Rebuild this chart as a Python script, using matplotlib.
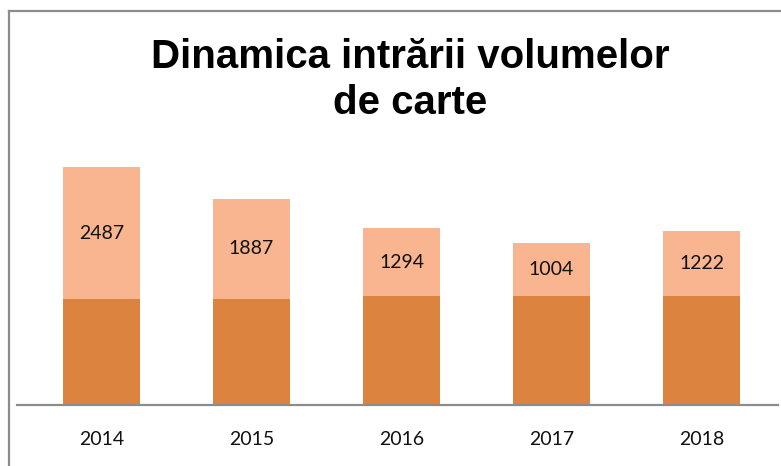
import matplotlib
matplotlib.use('Agg')
import matplotlib.pyplot as plt
from matplotlib.lines import Line2D

years = ['2014', '2015', '2016', '2017', '2018']
base_vals = [1990, 1990, 2040, 2040, 2040]
intrari = [2487, 1887, 1294, 1004, 1222]

dark = '#DC843F'
light = '#F9B590'
grey = '#8C8C8C'

fig = plt.figure(figsize=(7.81, 4.66), dpi=100)
ax = fig.add_axes([17 / 781, 61 / 466, 761 / 781, 250 / 466])

x = list(range(len(years)))
ax.bar(x, base_vals, width=0.513, color=dark, zorder=2)
ax.bar(x, intrari, width=0.513, bottom=base_vals, color=light, zorder=2)

for xi, b, v in zip(x, base_vals, intrari):
    ax.text(xi, b + v / 2, str(v), ha='center', va='center',
            fontsize=14, family=['Lato', 'DejaVu Sans'], color='#111111')

ax.set_xlim(-0.563, 4.51)
ax.set_ylim(0, 4700)
ax.set_xticks(x)
ax.set_xticklabels(years, family=['Lato', 'DejaVu Sans'], fontsize=14,
                   color='#111111')
ax.tick_params(axis='x', length=0, pad=18.5)
ax.set_yticks([])
for s in ['top', 'right', 'left']:
    ax.spines[s].set_visible(False)
ax.spines['bottom'].set_color(grey)
ax.spines['bottom'].set_linewidth(1.6)

fig.text(0.525, 1 - 80 / 466, 'Dinamica intrării volumelor\nde carte',
         ha='center', va='center', fontsize=29, fontweight='bold',
         family=['Liberation Sans', 'DejaVu Sans'], linespacing=1.3)

# chart frame (left and top edges visible)
fig.add_artist(Line2D([8.5 / 781, 8.5 / 781], [0, 1 - 11 / 466], color=grey, lw=1.6))
fig.add_artist(Line2D([8.5 / 781, 1.0], [1 - 11 / 466, 1 - 11 / 466], color=grey, lw=1.6))

plt.savefig('out.png', dpi=100, facecolor='white')
plt.close()
